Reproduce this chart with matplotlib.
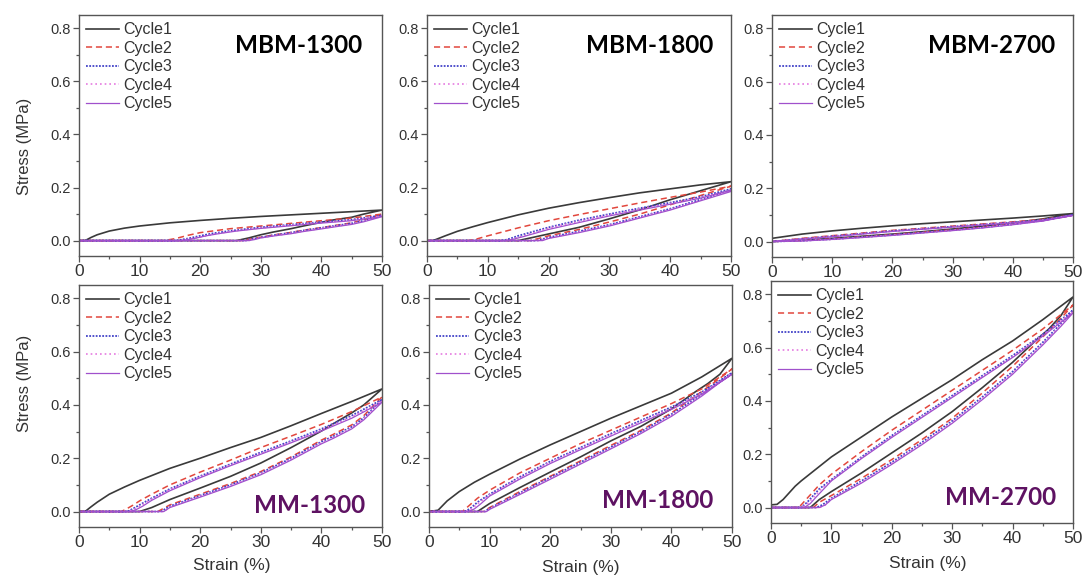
import numpy as np
import matplotlib
matplotlib.use('Agg')
import matplotlib.pyplot as plt

plt.rcParams['font.family'] = ['Liberation Sans', 'DejaVu Sans']

W, H = 1084, 576

cycle_labels = ['Cycle1', 'Cycle2', 'Cycle3', 'Cycle4', 'Cycle5']
panel_names = ['MBM-1300', 'MBM-1800', 'MBM-2700', 'MM-1300', 'MM-1800', 'MM-2700']

# ---- MBM-1300 : (strain, stress) for loading and unloading of each cycle
mbm1300_load = [
    ([0, 1, 2, 3, 5, 7.5, 10, 15, 20, 25, 30, 35, 40, 45, 50],
     [0, 0, .012, .022, .036, .047, .055, .067, .076, .084, .091, .097, .103, .109, .115]),
    ([0, 14, 16, 18, 20, 25, 30, 35, 40, 45, 50],
     [0, 0, .008, .02, .03, .045, .055, .065, .075, .085, .1]),
    ([0, 16, 18, 20, 22, 25, 30, 35, 40, 45, 50],
     [0, 0, .008, .018, .027, .037, .05, .06, .07, .079, .095]),
    ([0, 16.5, 18.5, 20.5, 22.5, 25, 30, 35, 40, 45, 50],
     [0, 0, .007, .016, .025, .035, .048, .058, .068, .077, .093]),
    ([0, 17, 19, 21, 23, 26, 30, 35, 40, 45, 50],
     [0, 0, .008, .018, .026, .036, .046, .056, .066, .075, .09]),
]
mbm1300_unload = [
    ([50, 47, 45, 42, 40, 37, 35, 32, 30, 28, 26, 0],
     [.115, .1, .088, .078, .069, .055, .045, .032, .022, .01, 0, 0]),
    ([50, 47, 45, 42, 40, 37, 35, 32, 30, 28, 27, 0],
     [.1, .078, .067, .056, .049, .039, .031, .021, .013, .005, 0, 0]),
    ([50, 47, 45, 42, 40, 37, 35, 32, 30, 28, 27.5, 0],
     [.095, .075, .065, .055, .048, .038, .03, .02, .012, .004, 0, 0]),
    ([50, 47, 45, 42, 40, 37, 35, 32, 30, 28.5, 28, 0],
     [.093, .073, .063, .053, .046, .036, .028, .018, .011, .004, 0, 0]),
    ([50, 47, 45, 42, 40, 37, 35, 32, 30, 29, 28, 0],
     [.09, .071, .061, .051, .044, .034, .026, .017, .01, .004, 0, 0]),
]

# ---- MBM-1800
mbm1800_load = [
    ([0, 1, 3, 5, 7.5, 10, 15, 20, 25, 30, 35, 40, 45, 50],
     [0, 0, .018, .035, .052, .068, .097, .122, .143, .162, .18, .195, .21, .222]),
    ([0, 7, 8, 10, 15, 20, 25, 30, 35, 40, 45, 50],
     [0, 0, .005, .018, .048, .075, .098, .12, .142, .163, .183, .205]),
    ([0, 12, 13, 14, 15, 20, 25, 30, 35, 40, 45, 50],
     [0, 0, .003, .01, .018, .05, .077, .1, .122, .143, .165, .195]),
    ([0, 12.5, 13.5, 14.5, 15.5, 20, 25, 30, 35, 40, 45, 50],
     [0, 0, .002, .008, .015, .047, .073, .097, .12, .14, .162, .19]),
    ([0, 13, 14, 15, 16, 20, 25, 30, 35, 40, 45, 50],
     [0, 0, .004, .01, .016, .042, .068, .093, .115, .137, .16, .19]),
]
mbm1800_unload = [
    ([50, 45, 40, 35, 30, 25, 20, 17, 15, 0],
     [.222, .188, .154, .116, .082, .05, .025, .01, 0, 0]),
    ([50, 45, 40, 35, 30, 25, 20, 17, 0],
     [.205, .17, .135, .1, .07, .042, .018, 0, 0]),
    ([50, 45, 40, 35, 30, 25, 20, 18, 0],
     [.19, .155, .12, .09, .06, .035, .012, 0, 0]),
    ([50, 45, 40, 35, 30, 25, 20, 18.5, 0],
     [.188, .152, .118, .088, .058, .033, .01, 0, 0]),
    ([50, 45, 40, 35, 30, 25, 20, 19, 0],
     [.185, .15, .115, .085, .055, .03, .008, 0, 0]),
]

# ---- MBM-2700
mbm2700_load = [
    ([0, 5, 10, 15, 20, 25, 30, 35, 40, 45, 50],
     [.012, .028, .04, .05, .059, .067, .074, .081, .088, .096, .105]),
    ([0, 5, 10, 15, 20, 25, 30, 35, 40, 45, 50],
     [0, .012, .022, .032, .042, .05, .058, .066, .074, .083, .1]),
    ([0, 5, 10, 15, 20, 25, 30, 35, 40, 45, 50],
     [0, .01, .02, .03, .04, .048, .056, .064, .072, .081, .1]),
    ([0, 5, 10, 15, 20, 25, 30, 35, 40, 45, 50],
     [0, .01, .019, .029, .039, .047, .055, .063, .071, .08, .098]),
    ([0, 5, 10, 15, 20, 25, 30, 35, 40, 45, 50],
     [0, .009, .018, .028, .038, .046, .054, .062, .07, .079, .098]),
]
mbm2700_unload = [
    ([50, 45, 40, 35, 30, 25, 20, 15, 10, 5, 0],
     [.105, .085, .07, .058, .047, .037, .028, .02, .012, .005, 0]),
    ([50, 45, 40, 35, 30, 25, 20, 15, 10, 5, 0],
     [.1, .08, .066, .054, .044, .035, .026, .018, .01, .004, 0]),
    ([50, 45, 40, 35, 30, 25, 20, 15, 10, 5, 0],
     [.1, .079, .065, .053, .043, .034, .025, .017, .009, .003, 0]),
    ([50, 45, 40, 35, 30, 25, 20, 15, 10, 5, 0],
     [.098, .078, .064, .052, .042, .033, .024, .016, .008, .003, 0]),
    ([50, 45, 40, 35, 30, 25, 20, 15, 10, 5, 0],
     [.098, .077, .063, .051, .041, .032, .023, .015, .008, .002, 0]),
]

# ---- MM-1300
mm1300_load = [
    ([0, 1, 2, 3, 5, 7.5, 10, 15, 20, 25, 30, 35, 40, 45, 50],
     [0, 0, .018, .035, .065, .092, .117, .162, .2, .24, .278, .322, .368, .413, .46]),
    ([0, 7, 8, 9, 10, 12, 15, 20, 25, 30, 35, 40, 45, 50],
     [0, 0, .012, .025, .04, .065, .1, .148, .193, .24, .283, .327, .375, .43]),
    ([0, 8, 9, 10, 12, 15, 20, 25, 30, 35, 40, 45, 50],
     [0, 0, .012, .025, .05, .085, .133, .178, .222, .265, .31, .36, .42]),
    ([0, 8.2, 9.2, 10.2, 12, 15, 20, 25, 30, 35, 40, 45, 50],
     [0, 0, .01, .022, .047, .082, .13, .175, .218, .262, .306, .355, .415]),
    ([0, 8.5, 9.5, 10.5, 12, 15, 20, 25, 30, 35, 40, 45, 50],
     [0, 0, .008, .02, .042, .078, .127, .172, .215, .258, .302, .35, .41]),
]
mm1300_unload = [
    ([50, 47, 45, 42, 40, 35, 30, 25, 20, 15, 12, 10, 0],
     [.46, .4, .37, .33, .302, .24, .182, .132, .088, .045, .015, 0, 0]),
    ([50, 47, 45, 42, 40, 35, 30, 25, 20, 15, 13, 0],
     [.43, .36, .325, .29, .268, .205, .15, .105, .065, .025, 0, 0]),
    ([50, 47, 45, 42, 40, 35, 30, 25, 20, 15, 13.5, 0],
     [.42, .352, .318, .283, .262, .2, .145, .1, .06, .02, 0, 0]),
    ([50, 47, 45, 42, 40, 35, 30, 25, 20, 15, 14, 0],
     [.415, .348, .314, .279, .258, .197, .142, .097, .057, .017, 0, 0]),
    ([50, 47, 45, 42, 40, 35, 30, 25, 20, 15, 14, 0],
     [.41, .344, .31, .275, .254, .193, .138, .094, .054, .015, 0, 0]),
]

# ---- MM-1800
mm1800_load = [
    ([0, 1.5, 3, 5, 7.5, 10, 15, 20, 25, 30, 35, 40, 45, 50],
     [0, .005, .04, .075, .11, .14, .197, .25, .3, .35, .397, .444, .505, .575]),
    ([0, 5.5, 6, 7, 8, 10, 15, 20, 25, 30, 35, 40, 45, 50],
     [0, 0, .01, .03, .05, .08, .145, .2, .255, .305, .355, .405, .46, .535]),
    ([0, 6, 7, 8, 10, 15, 20, 25, 30, 35, 40, 45, 50],
     [0, 0, .015, .035, .065, .13, .188, .24, .292, .342, .392, .448, .52]),
    ([0, 6.2, 7.2, 8.2, 10, 15, 20, 25, 30, 35, 40, 45, 50],
     [0, 0, .013, .032, .062, .127, .185, .237, .288, .338, .388, .444, .515]),
    ([0, 6.5, 7.5, 8.5, 10, 15, 20, 25, 30, 35, 40, 45, 50],
     [0, 0, .01, .028, .058, .122, .18, .232, .283, .333, .383, .44, .515]),
]
mm1800_unload = [
    ([50, 48, 46, 44, 40, 35, 30, 25, 20, 15, 10, 8, 0],
     [.575, .515, .48, .45, .385, .32, .265, .205, .148, .09, .03, 0, 0]),
    ([50, 48, 45, 40, 35, 30, 25, 20, 15, 10, 9, 0],
     [.535, .5, .45, .37, .305, .248, .19, .132, .075, .015, 0, 0]),
    ([50, 48, 45, 40, 35, 30, 25, 20, 15, 10, 9.2, 0],
     [.52, .49, .44, .365, .3, .242, .185, .128, .07, .012, 0, 0]),
    ([50, 48, 45, 40, 35, 30, 25, 20, 15, 10, 9.4, 0],
     [.518, .487, .436, .36, .296, .238, .181, .124, .067, .01, 0, 0]),
    ([50, 48, 45, 40, 35, 30, 25, 20, 15, 10, 9.5, 0],
     [.515, .484, .433, .357, .293, .235, .178, .121, .064, .008, 0, 0]),
]

# ---- MM-2700
mm2700_load = [
    ([0, 1, 2, 3, 4, 5, 7.5, 10, 15, 20, 25, 30, 35, 40, 45, 50],
     [.01, .012, .03, .055, .08, .1, .145, .19, .265, .34, .41, .48, .555, .625, .705, .79]),
    ([0, 4.5, 5, 6, 7, 8, 10, 15, 20, 25, 30, 35, 40, 45, 50],
     [0, 0, .01, .035, .06, .085, .125, .21, .29, .365, .44, .515, .59, .67, .76]),
    ([0, 5, 6, 7, 8, 10, 15, 20, 25, 30, 35, 40, 45, 50],
     [0, 0, .02, .045, .07, .105, .19, .27, .345, .42, .495, .57, .65, .74]),
    ([0, 5.2, 6.2, 7.2, 8.2, 10, 15, 20, 25, 30, 35, 40, 45, 50],
     [0, 0, .018, .042, .067, .102, .187, .266, .341, .416, .491, .566, .647, .735]),
    ([0, 5.5, 6.5, 7.5, 8.5, 10, 15, 20, 25, 30, 35, 40, 45, 50],
     [0, 0, .015, .04, .064, .1, .184, .263, .338, .413, .488, .563, .643, .73]),
]
mm2700_unload = [
    ([50, 48, 46, 44, 40, 35, 30, 25, 20, 15, 10, 8, 6.5, 0],
     [.79, .72, .67, .63, .545, .45, .36, .28, .205, .13, .06, .03, 0, 0]),
    ([50, 48, 45, 40, 35, 30, 25, 20, 15, 10, 8, 7, 0],
     [.76, .71, .64, .53, .43, .335, .255, .18, .11, .045, .02, 0, 0]),
    ([50, 48, 45, 40, 35, 30, 25, 20, 15, 10, 8.5, 7.5, 0],
     [.74, .69, .62, .51, .415, .325, .245, .17, .1, .035, .01, 0, 0]),
    ([50, 48, 45, 40, 35, 30, 25, 20, 15, 10, 9, 8, 0],
     [.735, .685, .615, .505, .41, .32, .24, .166, .096, .032, .01, 0, 0]),
    ([50, 48, 45, 40, 35, 30, 25, 20, 15, 10, 9, 8, 0],
     [.73, .68, .61, .5, .405, .316, .236, .162, .092, .03, .01, 0, 0]),
]

loads = [mbm1300_load, mbm1800_load, mbm2700_load, mm1300_load, mm1800_load, mm2700_load]
unloads = [mbm1300_unload, mbm1800_unload, mbm2700_unload, mm1300_unload, mm1800_unload, mm2700_unload]

# line styles for the five cycles
colors = ['#3a3a3a', '#e2473d', '#4343c8', '#e57ae0', '#a050cc']
styles = ['-', (0, (4, 2.5)), (0, (1, 0.8)), (0, (1, 1.8)), '-']
widths = [1.2, 1.1, 1.3, 1.2, 0.9]

# axes boxes in pixels: left, right, top, bottom
boxes = [(79, 382, 15, 256), (427, 731, 15, 256), (772, 1073, 15, 257),
         (79, 382, 285, 527), (429, 732, 285, 527), (771, 1073, 281, 523)]
name_pos = [(0.935, 0.875), (0.94, 0.875), (0.94, 0.875),
            (0.944, 0.09), (0.937, 0.11), (0.945, 0.107)]
ylabel_pos = {0: 0.456, 3: 0.595}
xlabel_pos = {3: (0.505, -0.128), 4: (0.5, -0.136), 5: (0.52, -0.136)}

fig = plt.figure(figsize=(W / 100, H / 100), dpi=100)
fig.patch.set_facecolor('white')

for i in range(6):
    l, r, t, b = boxes[i]
    ax = fig.add_axes([l / W, 1 - b / H, (r - l) / W, (b - t) / H])
    for c in range(5):
        xl, yl = loads[i][c]
        xu, yu = unloads[i][c]
        x = np.concatenate([xl, xu])
        y = np.concatenate([yl, yu])
        ax.plot(x, y, color=colors[c], linestyle=styles[c], lw=widths[c],
                label=cycle_labels[c])
    ax.set_xlim(0, 50)
    ax.set_ylim(-0.058, 0.85)
    ax.set_xticks([0, 10, 20, 30, 40, 50])
    ax.set_xticks([5, 15, 25, 35, 45], minor=True)
    ax.set_yticks([0.0, 0.2, 0.4, 0.6, 0.8])
    ax.set_yticks([0.1, 0.3, 0.5, 0.7], minor=True)
    ax.set_yticklabels(['0.0', '0.2', '0.4', '0.6', '0.8'])
    ax.tick_params(which='both', direction='out', colors='#555555', labelcolor='#333333',
                   width=0.9)
    ax.tick_params(axis='y', labelsize=10.5)
    ax.tick_params(axis='x', labelsize=12.5)
    ax.tick_params(which='major', length=4, pad=2)
    ax.tick_params(which='minor', length=2.5)
    for s in ax.spines.values():
        s.set_color('#555555')
        s.set_linewidth(1.0)

    leg = ax.legend(loc='upper left', frameon=False, fontsize=11.5, handlelength=2.05,
                    handletextpad=0.3, labelspacing=0.22, borderpad=0.15, borderaxespad=0.3)
    for txt in leg.get_texts():
        txt.set_color('#333333')

    if i < 3:
        ax.text(name_pos[i][0], name_pos[i][1], panel_names[i], transform=ax.transAxes,
                ha='right', va='center', fontsize=17.5, fontweight='bold',
                family=['Lato', 'DejaVu Sans'], color='black')
    else:
        ax.text(name_pos[i][0], name_pos[i][1], panel_names[i], transform=ax.transAxes,
                ha='right', va='center', fontsize=17.5, fontweight='bold',
                family=['Lato', 'DejaVu Sans'], color='#5e1262')

    if i in ylabel_pos:
        ax.set_ylabel('Stress (MPa)', fontsize=12, color='#333333')
        ax.yaxis.set_label_coords(-0.155, ylabel_pos[i])
    if i in xlabel_pos:
        ax.set_xlabel('Strain (%)', fontsize=12.5, color='#333333')
        ax.xaxis.set_label_coords(xlabel_pos[i][0], xlabel_pos[i][1])

fig.savefig('out.png', dpi=100, facecolor='white')
